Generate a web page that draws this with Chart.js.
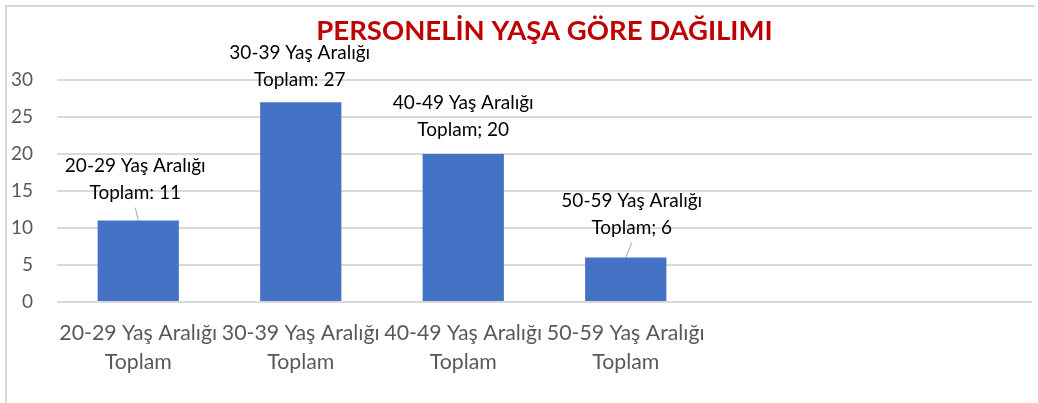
<!DOCTYPE html>
<html>
<head>
<meta charset="utf-8">
<script src="https://cdn.jsdelivr.net/npm/chart.js@4.4.1/dist/chart.umd.min.js"></script>
<style>
    html, body { margin: 0; padding: 0; background: #fff; }
    #wrap { position: relative; width: 1038px; height: 403px; overflow: hidden; }
    #frame { position: absolute; left: 5px; top: 5px; width: 1028px; height: 420px;
             border-top: 2px solid #d9d9d9; border-left: 2px solid #d9d9d9; pointer-events: none; }
    canvas { position: absolute; left: 0; top: 0; }
</style>
</head>
<body>
<div id="wrap">
    <canvas id="chart" width="1038" height="403"></canvas>
    <div id="frame"></div>
</div>
<script>
// categories (last two are empty slots in the original sheet)
const categories = [
    ['20-29 Yaş Aralığı', 'Toplam'],
    ['30-39 Yaş Aralığı', 'Toplam'],
    ['40-49 Yaş Aralığı', 'Toplam'],
    ['50-59 Yaş Aralığı', 'Toplam'],
    '',
    '',
];
const values = [11, 27, 20, 6, null, null];
const valueLabels = [
    ['20-29 Yaş Aralığı', 'Toplam: 11'],
    ['30-39 Yaş Aralığı', 'Toplam: 27'],
    ['40-49 Yaş Aralığı', 'Toplam; 20'],
    ['50-59 Yaş Aralığı', 'Toplam; 6'],
];
const yTicks = [0, 5, 10, 15, 20, 25, 30];

const FONT = 'Lato, "Liberation Sans", sans-serif';

// where each data label sits relative to its bar top (dx, dy of last line), and leader lines
const labelPlacement = [
    { dx: -3, dy: -28, leader: true },
    { dx: -1, dy: -22, leader: false },
    { dx: 0, dy: -24, leader: false },
    { dx: 6, dy: -30, leader: true },
];

const dataLabels = {
    id: 'dataLabels',
    afterDatasetsDraw: (chart) => {
        const { ctx } = chart;
        const meta = chart.getDatasetMeta(0);
        ctx.save();
        ctx.font = '19px ' + FONT;
        ctx.fillStyle = '#000';
        ctx.textAlign = 'center';
        ctx.textBaseline = 'middle';
        valueLabels.forEach((lines, i) => {
            const bar = meta.data[i];
            const p = labelPlacement[i];
            const cx = bar.x + p.dx;
            const lastY = bar.y + p.dy;
            const lh = 27;
            lines.forEach((txt, j) => {
                ctx.fillText(txt, cx, lastY - (lines.length - 1 - j) * lh);
            });
            if (p.leader) {
                ctx.strokeStyle = '#a6a6a6';
                ctx.lineWidth = 1;
                ctx.beginPath();
                ctx.moveTo(cx, lastY + 15);
                ctx.lineTo(bar.x, bar.y);
                ctx.stroke();
            }
        });
        ctx.restore();
    },
};

new Chart(document.getElementById('chart'), {
    type: 'bar',
    data: {
        labels: categories,
        datasets: [{
            data: values,
            backgroundColor: '#4472C4',
            categoryPercentage: 1,
            barPercentage: 0.5,
        }],
    },
    options: {
        responsive: false,
        animation: false,
        layout: { padding: { left: 0, right: 6, top: 0, bottom: 0 } },
        plugins: {
            legend: { display: false },
            tooltip: { enabled: false },
            title: {
                display: true,
                fullSize: false,
                text: 'PERSONELİN YAŞA GÖRE DAĞILIMI',
                color: '#C00000',
                font: { family: FONT, size: 27.5, weight: 'bold', lineHeight: 1.2 },
                padding: { top: 15, bottom: 32 },
            },
        },
        scales: {
            x: {
                grid: { display: false, drawTicks: false },
                border: { display: false },
                ticks: {
                    color: '#595959',
                    font: { family: FONT, size: 21.3, lineHeight: 1.38 },
                    padding: 16,
                    maxRotation: 0,
                    autoSkip: false,
                },
                afterFit: (s) => { s.height = 101; },
            },
            y: {
                min: 0,
                max: 30,
                afterBuildTicks: (s) => { s.ticks = yTicks.map((v) => ({ value: v })); },
                grid: { color: '#d9d9d9', lineWidth: 2, drawTicks: false },
                border: { display: false },
                ticks: {
                    color: '#595959',
                    font: { family: FONT, size: 19 },
                    padding: 24,
                },
                afterFit: (s) => { s.width = 57; },
            },
        },
    },
    plugins: [dataLabels],
});
</script>
</body>
</html>
